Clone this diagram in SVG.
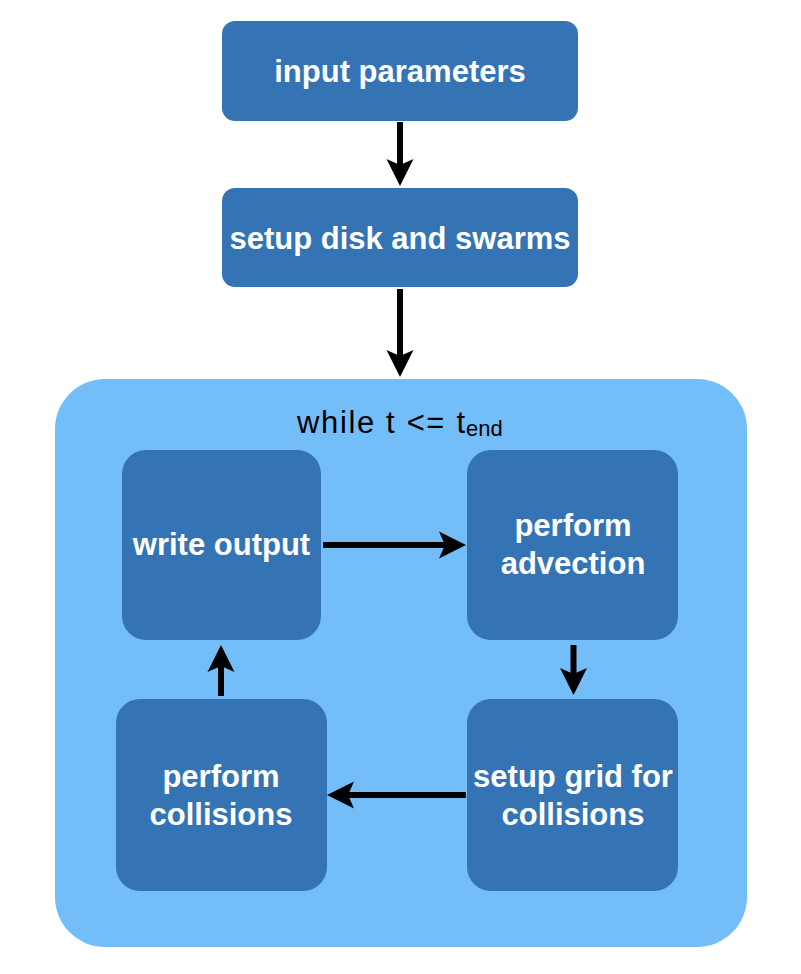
<svg xmlns="http://www.w3.org/2000/svg" width="801" height="974" viewBox="0 0 801 974">
<style>
.box{fill:#3474B4;}
.lbl{font-family:"Liberation Sans",Arial,sans-serif;font-weight:bold;font-size:31px;fill:#ffffff;text-anchor:middle;}
.title{font-family:"Liberation Sans",Arial,sans-serif;font-size:31px;fill:#000000;}
.edge{stroke:#000000;stroke-width:6;fill:none;marker-end:url(#ah);}
</style>
<defs>
<marker id="ah" markerUnits="userSpaceOnUse" markerWidth="40" markerHeight="40" viewBox="-10 -20 40 40" refX="0" refY="0" orient="auto">
<path d="M21,0 L-6,-13.5 L0,0 L-6,13.5 Z" fill="#000000"/>
</marker>
</defs>
<rect width="801" height="974" fill="#ffffff"/>
<g id="loop">
<rect x="55" y="379" width="692" height="568" rx="50" ry="50" fill="#73BEF8"/>
<text class="title" x="297" y="433" textLength="168" lengthAdjust="spacing">while t &lt;= t</text>
<text class="title" x="466" y="436" style="font-size:22px">end</text>
</g>
<g id="input">
<rect class="box" x="222" y="21" width="356" height="100" rx="13"/>
<text class="lbl" x="400" y="82">input parameters</text>
</g>
<g id="setup">
<rect class="box" x="222" y="188" width="356" height="99" rx="13"/>
<text class="lbl" x="400" y="249">setup disk and swarms</text>
</g>
<g id="write">
<rect class="box" x="122" y="450" width="199" height="190" rx="24"/>
<text class="lbl" x="221.5" y="555">write output</text>
</g>
<g id="advection">
<rect class="box" x="467" y="450" width="211" height="190" rx="24"/>
<text class="lbl" x="573" y="536">perform</text>
<text class="lbl" x="573" y="574">advection</text>
</g>
<g id="grid">
<rect class="box" x="467" y="699" width="211" height="192" rx="24"/>
<text class="lbl" x="573" y="787">setup grid for</text>
<text class="lbl" x="573" y="825">collisions</text>
</g>
<g id="collisions">
<rect class="box" x="116" y="699" width="211" height="192" rx="24"/>
<text class="lbl" x="221" y="787">perform</text>
<text class="lbl" x="221" y="825">collisions</text>
</g>
<g id="connectors">
<line class="edge" x1="400" y1="122" x2="400" y2="165"/>
<line class="edge" x1="400" y1="289" x2="400" y2="356"/>
<line class="edge" x1="323" y1="545" x2="445" y2="545"/>
<line class="edge" x1="573.5" y1="645" x2="573.5" y2="674"/>
<line class="edge" x1="466" y1="795" x2="348" y2="795"/>
<line class="edge" x1="221" y1="696" x2="221" y2="666"/>
</g>
</svg>
